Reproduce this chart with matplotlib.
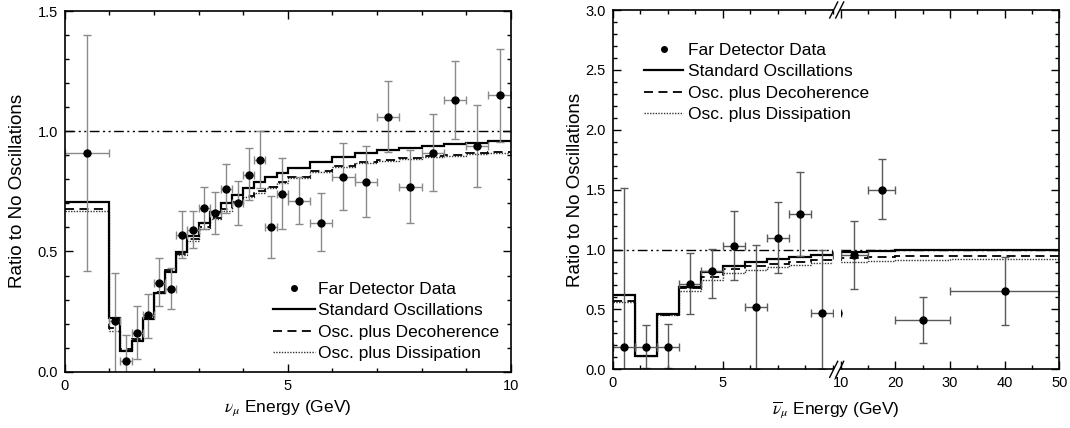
import numpy as np
import matplotlib
matplotlib.use("Agg")
import matplotlib.pyplot as plt
from matplotlib.ticker import MultipleLocator
from matplotlib.lines import Line2D

plt.rcParams['font.family'] = ['Liberation Sans', 'DejaVu Sans']
plt.rcParams['mathtext.fontset'] = 'stix'

# ---- left panel: nu_mu, 0-10 GeV ----
nu_edges = [0, 1, 1.25, 1.5, 1.75, 2, 2.25, 2.5, 2.75, 3, 3.25, 3.5, 3.75, 4, 4.25,
            4.5, 4.75, 5, 5.5, 6, 6.5, 7, 7.5, 8, 8.5, 9, 9.5, 10]
nu_data = [0.91, 0.21, 0.045, 0.16, 0.235, 0.37, 0.345, 0.57, 0.59, 0.68, 0.66, 0.76, 0.70,
           0.82, 0.88, 0.60, 0.74, 0.71, 0.62, 0.81, 0.79, 1.06, 0.77, 0.91, 1.13, 0.94, 1.15]
nu_hi = [1.40, 0.41, 0.152, 0.273, 0.322, 0.471, 0.432, 0.669, 0.669, 0.769, 0.748, 0.862, 0.793,
         0.931, 1.0, 0.731, 0.89, 0.811, 0.742, 0.952, 0.94, 1.21, 0.922, 1.071, 1.29, 1.11, 1.34]
nu_lo = [0.42, -0.1, -0.1, 0.052, 0.141, 0.273, 0.262, 0.473, 0.513, 0.592, 0.571, 0.661, 0.611,
         0.714, 0.764, 0.473, 0.592, 0.613, 0.5, 0.674, 0.642, 0.912, 0.62, 0.751, 0.969, 0.769, 0.956]
nu_std = [0.704, 0.222, 0.086, 0.129, 0.218, 0.326, 0.416, 0.496, 0.563, 0.617, 0.664, 0.70, 0.736,
          0.764, 0.789, 0.808, 0.827, 0.848, 0.872, 0.893, 0.908, 0.92, 0.93, 0.94, 0.947, 0.952, 0.958]
nu_dec = [0.675, 0.18, 0.095, 0.135, 0.225, 0.33, 0.425, 0.49, 0.55, 0.60, 0.64, 0.675, 0.705,
          0.73, 0.75, 0.77, 0.79, 0.81, 0.835, 0.855, 0.871, 0.88, 0.889, 0.897, 0.902, 0.908, 0.915]
nu_dis = [0.67, 0.17, 0.092, 0.132, 0.222, 0.327, 0.42, 0.486, 0.545, 0.595, 0.636, 0.67, 0.70,
          0.725, 0.745, 0.765, 0.785, 0.805, 0.83, 0.851, 0.867, 0.876, 0.885, 0.893, 0.898, 0.904, 0.91]

# ---- right panel: anti-nu_mu, 0-50 GeV (broken axis at 10) ----
nb_edges = [0, 1, 2, 3, 4, 5, 6, 7, 8, 9, 10, 15, 20, 30, 50]
nb_data = [0.19, 0.19, 0.185, 0.71, 0.82, 1.03, 0.52, 1.10, 1.30, 0.47, 0.955, 1.50, 0.41, 0.65]
nb_hi = [1.51, 0.37, 0.378, 0.968, 1.004, 1.318, 1.035, 1.40, 1.65, 1.0, 1.235, 1.753, 0.60, 0.935]
nb_lo = [-0.05, 0.01, 0.01, 0.459, 0.598, 0.745, 0.0, 0.806, 0.948, 0.0, 0.67, 1.254, 0.217, 0.37]
nb_std = [0.623, 0.114, 0.459, 0.69, 0.815, 0.862, 0.898, 0.923, 0.94, 0.954, 0.976, 0.99, 0.998, 0.998]
nb_dec = [0.57, 0.114, 0.455, 0.676, 0.773, 0.837, 0.86, 0.879, 0.896, 0.91, 0.926, 0.94, 0.946, 0.946]
nb_dis = [0.562, 0.112, 0.45, 0.654, 0.745, 0.801, 0.829, 0.857, 0.871, 0.885, 0.898, 0.907, 0.912, 0.918]

labels = ["Far Detector Data", "Standard Oscillations",
          "Osc. plus Decoherence", "Osc. plus Dissipation"]

W, H = 1070, 428
fig = plt.figure(figsize=(W / 100, H / 100), dpi=100)

def px(x0, y0, x1, y1):
    # pixel box -> figure fraction rect
    return [x0 / W, 1 - y1 / H, (x1 - x0) / W, (y1 - y0) / H]

dash = (0, (5, 3))
dot = (0, (1, 1))
dashdotdot = (0, (7, 2.5, 1.5, 2.5, 1.5, 2.5))


def draw_all(ax, edges, data, lo, hi, std, dec, dis, ecolor):
    edges = np.array(edges, dtype=float)
    data = np.array(data)
    centers = (edges[:-1] + edges[1:]) / 2
    xerr = np.diff(edges) / 2
    yerr = [data - np.array(lo), np.array(hi) - data]
    ax.axhline(1.0, color='black', lw=1.0, ls=dashdotdot)
    ax.stairs(dis, edges, baseline=None, color='#333333', lw=1.0, ls=dot)
    ax.stairs(dec, edges, baseline=None, color='black', lw=1.3, ls=dash)
    ax.stairs(std, edges, baseline=None, color='black', lw=1.6)
    ax.errorbar(centers, data, xerr=xerr, yerr=yerr, fmt='o', color='black', ms=5,
                ecolor=ecolor, elinewidth=1.0, capsize=3, capthick=1.0)


def style(ax):
    ax.tick_params(which='both', direction='in', top=True, right=True, labelsize=10.5, pad=5)
    ax.tick_params(which='major', length=6, width=1)
    ax.tick_params(which='minor', length=3, width=1)
    for s in ax.spines.values():
        s.set_linewidth(1.2)


handles = [Line2D([], [], marker='o', ls='none', color='black', ms=4),
           Line2D([], [], color='black', lw=1.6),
           Line2D([], [], color='black', lw=1.3, ls=dash),
           Line2D([], [], color='#333333', lw=1.0, ls=dot)]

# left
ax = fig.add_axes(px(64.7, 11, 510.7, 371.7))
draw_all(ax, nu_edges, nu_data, nu_lo, nu_hi, nu_std, nu_dec, nu_dis, '#8a8a8a')
ax.set_xlim(0, 10)
ax.set_ylim(0, 1.5)
ax.set_xticks([0, 5, 10])
ax.set_yticks([0, 0.5, 1.0, 1.5])
ax.set_yticklabels(['0.0', '0.5', '1.0', '1.5'])
ax.xaxis.set_minor_locator(MultipleLocator(1))
ax.yaxis.set_minor_locator(MultipleLocator(0.1))
style(ax)
ax.set_xlabel(r'$\nu_\mu$ Energy (GeV)', fontsize=12.5, labelpad=4)
ax.set_ylabel('Ratio to No Oscillations', fontsize=13.5)
ax.yaxis.set_label_coords((26 - 64.7) / 446, 0.5)
fig.legend(handles, labels, loc='center left', bbox_to_anchor=(273 / W, 1 - 321.5 / H),
           frameon=False, fontsize=12.5, handlelength=2.4, handletextpad=0.17,
           labelspacing=0.35, borderpad=0, borderaxespad=0)

# right, two segments
ax1 = fig.add_axes(px(612.7, 10, 832.7, 369.3))
ax2 = fig.add_axes(px(840.7, 10, 1059.3, 369.3))
for a in (ax1, ax2):
    draw_all(a, nb_edges, nb_data, nb_lo, nb_hi, nb_std, nb_dec, nb_dis, '#5a5a5a')
    a.set_ylim(0, 3.0)
    a.yaxis.set_minor_locator(MultipleLocator(0.1))
    style(a)
ax1.set_xlim(0, 10)
ax1.set_xticks([0, 5])
ax1.xaxis.set_minor_locator(MultipleLocator(1.25))
ax1.set_yticks(np.arange(0, 3.01, 0.5))
ax1.set_yticklabels(['%.1f' % v for v in np.arange(0, 3.01, 0.5)])
ax1.spines['right'].set_visible(False)
ax1.tick_params(which='both', right=False)
ax2.set_xlim(10, 50)
ax2.set_xticks([10, 20, 30, 40, 50])
ax2.xaxis.set_minor_locator(MultipleLocator(5))
ax2.set_yticks(np.arange(0, 3.01, 0.5))
ax2.spines['left'].set_visible(False)
ax2.tick_params(which='both', left=False, labelleft=False)
ax1.set_ylabel('Ratio to No Oscillations', fontsize=13.5)
ax1.yaxis.set_label_coords((584 - 612.7) / 220, 0.5)
fig.text((612.7 + 1059.3) / 2 / W, 1 - 410 / H, r'$\overline{\nu}_\mu$ Energy (GeV)',
         ha='center', va='center', fontsize=12.5)
fig.legend(handles, labels, loc='center left', bbox_to_anchor=(644 / W, 1 - 82.5 / H),
           frameon=False, fontsize=12.5, handlelength=2.25, handletextpad=0.3,
           labelspacing=0.35, borderpad=0, borderaxespad=0)

# break marks
for yb in (10, 369.3):
    for dx in (-3, 3):
        xc = 836.7 + dx
        fig.add_artist(Line2D([(xc - 4) / W, (xc + 4) / W],
                              [1 - (yb + 8) / H, 1 - (yb - 8) / H],
                              color='black', lw=1.0))

fig.savefig('out.png', dpi=100)
